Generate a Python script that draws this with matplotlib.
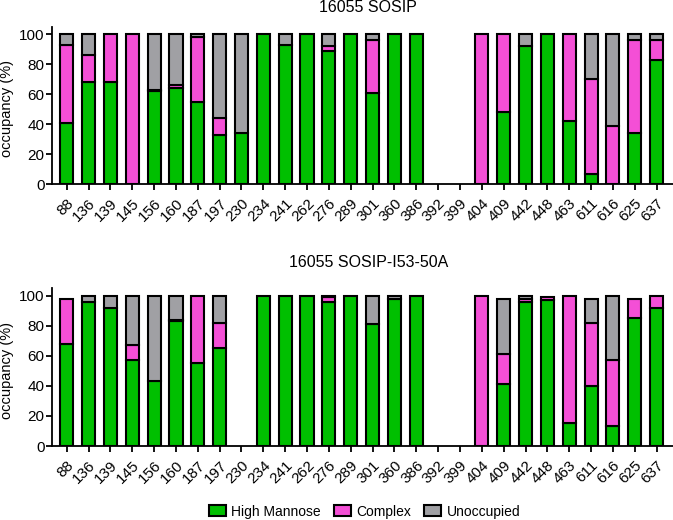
import matplotlib
matplotlib.use("Agg")
import matplotlib.pyplot as plt
import matplotlib.transforms as mtransforms
import numpy as np
from matplotlib.patches import Patch

plt.rcParams['font.family'] = ['Liberation Sans', 'DejaVu Sans']

sites = ["88", "136", "139", "145", "156", "160", "187", "197", "230", "234", "241", "262", "276",
         "289", "301", "360", "386", "392", "399", "404", "409", "442", "448", "463", "611", "616",
         "625", "637"]

# 16055 SOSIP
sosip_hm = [41, 68, 68, 0, 62, 64, 55, 33, 34, 100, 93, 100, 89,
            100, 61, 100, 100, 0, 0, 0, 48, 92, 100, 42, 7, 0, 34, 83]
sosip_cx = [52, 18, 32, 100, 1, 2, 43, 11, 0, 0, 0, 0, 3,
            0, 35, 0, 0, 0, 0, 100, 52, 0, 0, 58, 63, 39, 62, 13]
sosip_un = [7, 14, 0, 0, 37, 34, 2, 56, 66, 0, 7, 0, 8,
            0, 4, 0, 0, 0, 0, 0, 0, 8, 0, 0, 30, 61, 4, 4]

# 16055 SOSIP-I53-50A
np_hm = [68, 96, 92, 57, 43, 83, 55, 65, 0, 100, 100, 100, 96,
         100, 81, 98, 100, 0, 0, 0, 41, 96, 97, 15, 40, 13, 85, 92]
np_cx = [30, 0, 0, 10, 0, 1, 45, 17, 0, 0, 0, 0, 3,
         0, 0, 0, 0, 0, 0, 100, 20, 2, 2, 85, 42, 44, 13, 8]
np_un = [0, 4, 8, 33, 57, 16, 0, 18, 0, 0, 0, 0, 1,
         0, 19, 2, 0, 0, 0, 0, 37, 2, 0, 0, 16, 43, 0, 0]

titles = ["16055 SOSIP", "16055 SOSIP-I53-50A"]
labels = ["High Mannose", "Complex", "Unoccupied"]
colors = ["#00BF00", "#F44FD6", "#A0A0A4"]

fig = plt.figure(figsize=(6.73, 5.2), dpi=100)
ax1 = fig.add_axes([0.0777, 0.646, 0.9223, 0.3027])
ax2 = fig.add_axes([0.0777, 0.1423, 0.9223, 0.3033])

x = np.arange(len(sites))
offset = mtransforms.ScaledTranslation(7 / 100, -4 / 100, fig.dpi_scale_trans)
title_y = [1 - 8 / 520, 1 - 262.5 / 520]
for ax, title, ty, data in [(ax1, titles[0], title_y[0], (sosip_hm, sosip_cx, sosip_un)),
                            (ax2, titles[1], title_y[1], (np_hm, np_cx, np_un))]:
    bottom = np.zeros(len(sites))
    for vals, col in zip(data, colors):
        v = np.array(vals, dtype=float)
        mask = v > 0
        ax.bar(x[mask], v[mask], bottom=bottom[mask], width=0.6, color=col,
               edgecolor='black', linewidth=1.5)
        bottom += v
    ax.set_xlim(-0.66, 27.75)
    ax.set_ylim(0, 105)
    ax.set_yticks([0, 20, 40, 60, 80, 100])
    ax.set_xticks(x)
    ax.set_xticklabels(sites, rotation=45, ha='right', va='top', rotation_mode='anchor')
    for lab in ax.get_xticklabels():
        lab.set_transform(lab.get_transform() + offset)
    for sp in ['top', 'right']:
        ax.spines[sp].set_visible(False)
    for sp in ['left', 'bottom']:
        ax.spines[sp].set_linewidth(1.3)
    ax.tick_params(axis='both', direction='out', length=4.5, width=1.3, labelsize=11, pad=1)
    ax.tick_params(axis='x', pad=4)
    ax.set_ylabel("occupancy (%)", fontsize=10.5)
    ax.yaxis.set_label_coords(-0.062, 0.48)
    fig.text(0.547, ty, title, fontsize=11.5, ha='center', va='center')

handles = [Patch(facecolor=c, edgecolor='black', linewidth=1.5) for c in colors]
fig.legend(handles, labels, loc='center', bbox_to_anchor=(0.5416, 0.016), ncol=3,
           frameon=False, fontsize=10, handlelength=1.25, handleheight=0.85,
           columnspacing=0.9, handletextpad=0.4, borderpad=0, borderaxespad=0)

fig.savefig("out.png", dpi=100)
